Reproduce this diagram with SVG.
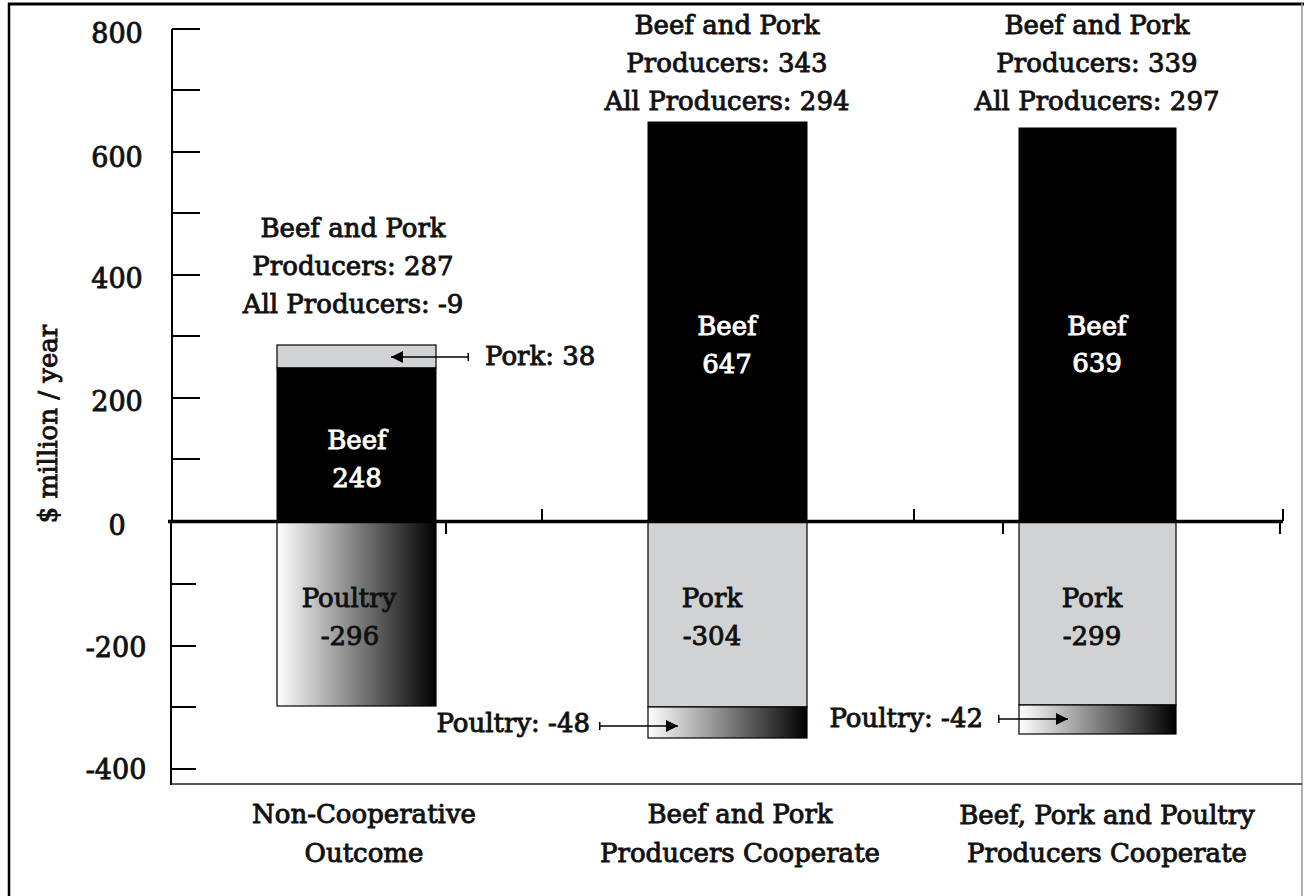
<svg xmlns="http://www.w3.org/2000/svg" width="1304" height="896" viewBox="0 0 1304 896">
<defs>
<style>
text{font-family:"DejaVu Serif","Liberation Serif",serif;font-size:26px;fill:#111;stroke:#111;stroke-width:0.9;text-anchor:middle}
text.w{fill:#fff;stroke:#fff}
text.s{text-anchor:start}
text.e{text-anchor:end}
text.t{font-size:27px}
.ax{stroke:#000;stroke-width:2;fill:none}
.tk{stroke:#000;stroke-width:2}
.beef{fill:#000;stroke:#000;stroke-width:1}
.pork{fill:#d1d2d4;stroke:#000;stroke-width:1.2}
.poul{fill:url(#g);stroke:#000;stroke-width:1.2}
.arr{stroke:#000;stroke-width:1.5;fill:none;marker-end:url(#ah);marker-start:url(#tb)}
</style>
<linearGradient id="g" x1="0" y1="0" x2="1" y2="0">
<stop offset="0" stop-color="#ffffff"/>
<stop offset="1" stop-color="#000000"/>
</linearGradient>
<marker id="ah" viewBox="0 0 12 12" refX="12" refY="6" markerWidth="12" markerHeight="12" markerUnits="userSpaceOnUse" orient="auto">
<path d="M0,0 L12,6 L0,12 Z" fill="#000"/>
</marker>
<marker id="tb" viewBox="0 0 2 8" refX="1" refY="4" markerWidth="2" markerHeight="8" markerUnits="userSpaceOnUse" orient="auto">
<rect x="0" y="0" width="1.5" height="8" fill="#000"/>
</marker>
</defs>
<rect x="0" y="0" width="1304" height="896" fill="#fff"/>
<g id="frame">
<line x1="8" y1="4" x2="1304" y2="4" stroke="#000" stroke-width="3"/>
<line x1="9" y1="3" x2="9" y2="896" stroke="#000" stroke-width="2.5"/>
<line x1="1302" y1="3" x2="1302" y2="896" stroke="#999" stroke-width="1.5"/>
</g>
<g id="axes">
<line class="ax" x1="172" y1="29" x2="172" y2="521"/>
<line class="ax" x1="171" y1="521" x2="171" y2="785"/>
<line x1="171" y1="784" x2="1302" y2="784" stroke="#222" stroke-width="1.5"/>
<g class="tk">
<line x1="172" y1="29" x2="200" y2="29"/>
<line x1="172" y1="90" x2="200" y2="90"/>
<line x1="172" y1="152" x2="200" y2="152"/>
<line x1="172" y1="213" x2="200" y2="213"/>
<line x1="172" y1="275" x2="200" y2="275"/>
<line x1="172" y1="336" x2="200" y2="336"/>
<line x1="172" y1="398" x2="200" y2="398"/>
<line x1="172" y1="459" x2="200" y2="459"/>
<line x1="170" y1="584" x2="196" y2="584"/>
<line x1="170" y1="646" x2="196" y2="646"/>
<line x1="170" y1="707" x2="196" y2="707"/>
<line x1="170" y1="769" x2="196" y2="769"/>
</g>
<text class="t" x="117" y="43">800</text>
<text class="t" x="117" y="167">600</text>
<text class="t" x="117" y="288">400</text>
<text class="t" x="117" y="411">200</text>
<text class="t" x="117" y="535">0</text>
<text class="t" x="116" y="657">-200</text>
<text class="t" x="116" y="779">-400</text>
<text transform="translate(57,424) rotate(-90)">$ million / year</text>
</g>
<g id="bar1">
<rect class="pork" x="277" y="345" width="159" height="23"/>
<rect class="beef" x="277" y="368" width="159" height="153"/>
<rect class="poul" x="277" y="522" width="159" height="184"/>
<text class="w" x="357" y="449">Beef</text>
<text class="w" x="357" y="487">248</text>
<text x="349" y="607">Poultry</text>
<text x="350" y="645">-296</text>
<text x="353" y="237">Beef and Pork</text>
<text x="353" y="275">Producers: 287</text>
<text x="353" y="313">All Producers: -9</text>
<text class="s" x="485" y="365">Pork: 38</text>
</g>
<g id="bar2">
<rect class="beef" x="648" y="122" width="159" height="399"/>
<rect class="pork" x="648" y="522" width="159" height="185"/>
<rect class="poul" x="648" y="707" width="159" height="31"/>
<text class="w" x="727" y="335">Beef</text>
<text class="w" x="727" y="373">647</text>
<text x="712" y="607">Pork</text>
<text x="712" y="645">-304</text>
<text x="727" y="34">Beef and Pork</text>
<text x="727" y="72">Producers: 343</text>
<text x="727" y="110">All Producers: 294</text>
<text class="e" x="590" y="732">Poultry: -48</text>
</g>
<g id="bar3">
<rect class="beef" x="1019" y="128" width="157" height="393"/>
<rect class="pork" x="1019" y="522" width="157" height="183"/>
<rect class="poul" x="1019" y="705" width="157" height="29"/>
<text class="w" x="1097" y="335">Beef</text>
<text class="w" x="1097" y="372">639</text>
<text x="1092" y="607">Pork</text>
<text x="1092" y="645">-299</text>
<text x="1097" y="34">Beef and Pork</text>
<text x="1097" y="72">Producers: 339</text>
<text x="1097" y="110">All Producers: 297</text>
<text class="e" x="983" y="727">Poultry: -42</text>
</g>
<g id="zero-axis">
<line x1="168" y1="521.5" x2="1283" y2="521.5" stroke="#000" stroke-width="3.5"/>
<g class="tk">
<line x1="542" y1="509" x2="542" y2="521"/>
<line x1="914" y1="509" x2="914" y2="521"/>
<line x1="1283" y1="509" x2="1283" y2="521"/>
<line x1="446" y1="522" x2="446" y2="534"/>
<line x1="1003" y1="522" x2="1003" y2="534"/>
<line x1="1280" y1="522" x2="1280" y2="534"/>
</g>
</g>
<g id="connectors">
<line class="arr" x1="468" y1="357" x2="391" y2="357"/>
<line class="arr" x1="600" y1="726" x2="678" y2="726"/>
<line class="arr" x1="999" y1="719" x2="1068" y2="719"/>
</g>
<g id="categories">
<text x="364" y="823">Non-Cooperative</text>
<text x="364" y="862">Outcome</text>
<text x="740" y="823">Beef and Pork</text>
<text x="740" y="862">Producers Cooperate</text>
<text x="1107" y="824">Beef, Pork and Poultry</text>
<text x="1107" y="862">Producers Cooperate</text>
</g>
</svg>
